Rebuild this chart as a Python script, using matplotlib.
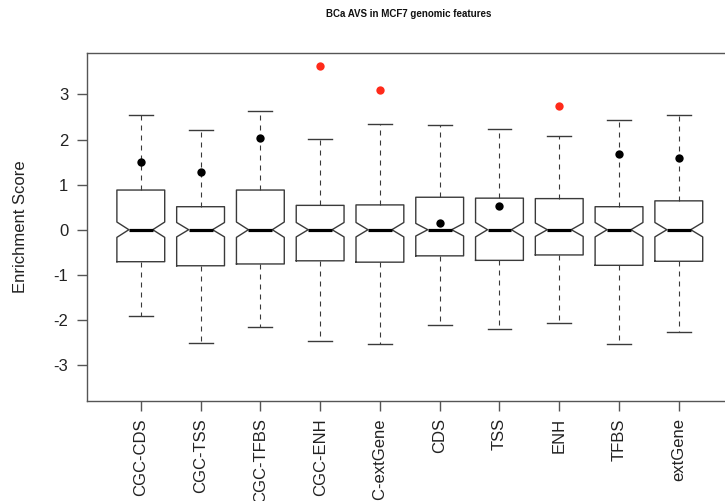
import matplotlib
matplotlib.use("Agg")
import matplotlib.pyplot as plt

plt.rcParams['font.family'] = ['Liberation Sans', 'DejaVu Sans']

# Genomic feature categories
categories = ['CGC-CDS', 'CGC-TSS', 'CGC-TFBS', 'CGC-ENH', 'CGC-extGene',
              'CDS', 'TSS', 'ENH', 'TFBS', 'extGene']

# Box statistics of the enrichment score per feature
medians = [0.0, 0.0, 0.0, 0.0, 0.0, 0.0, 0.0, 0.0, 0.0, 0.0]
q1 = [-0.71, -0.80, -0.76, -0.69, -0.72, -0.58, -0.68, -0.56, -0.79, -0.70]
q3 = [0.88, 0.51, 0.88, 0.54, 0.55, 0.72, 0.70, 0.69, 0.51, 0.64]
whisker_low = [-1.91, -2.52, -2.15, -2.47, -2.53, -2.11, -2.21, -2.06, -2.54, -2.26]
whisker_high = [2.54, 2.21, 2.64, 2.02, 2.35, 2.32, 2.23, 2.07, 2.43, 2.54]
notch_low = [-0.17, -0.16, -0.17, -0.16, -0.16, -0.14, -0.16, -0.15, -0.16, -0.16]
notch_high = [0.17, 0.16, 0.17, 0.16, 0.16, 0.14, 0.16, 0.15, 0.16, 0.16]

# Observed AVS score per feature; highlighted ones lie beyond the whiskers
avs_scores = [1.51, 1.28, 2.04, 3.64, 3.09, 0.14, 0.53, 2.74, 1.68, 1.58]
highlighted = [False, False, False, True, True, False, False, True, False, False]

fig = plt.figure(figsize=(7.25, 5.01), dpi=100)
ax = fig.add_axes([87 / 725, 100 / 501, 645.6 / 725, 348 / 501])

stats = []
for i, name in enumerate(categories):
    stats.append(dict(label=name, med=medians[i], q1=q1[i], q3=q3[i],
                      whislo=whisker_low[i], whishi=whisker_high[i],
                      cilo=notch_low[i], cihi=notch_high[i], fliers=[]))

positions = list(range(1, len(categories) + 1))
edge = '#3a3a3a'
ax.bxp(stats, positions=positions, widths=0.8, shownotches=True,
       showfliers=False, patch_artist=False,
       boxprops=dict(color=edge, linewidth=1.0),
       whiskerprops=dict(color=edge, linewidth=0.8, linestyle=(0, (4.5, 4.5))),
       capprops=dict(color=edge, linewidth=1.0),
       medianprops=dict(color='black', linewidth=2.3, solid_capstyle='butt'))

for x, v, hl in zip(positions, avs_scores, highlighted):
    ax.plot([x], [v], 'o', markersize=6, color='#ff2a1a' if hl else 'black',
            markeredgewidth=0, zorder=5)

ax.set_xlim(0.1, 10.9)
ax.set_ylim(-3.80, 3.92)
ax.set_yticks([-3, -2, -1, 0, 1, 2, 3])
ax.set_yticklabels(['-3', '-2', '-1', '0', '1', '2', '3'])
ax.set_xticks(positions)
ax.set_xticklabels(categories, rotation=90)

for s in ax.spines.values():
    s.set_color('#555555')
    s.set_linewidth(1.0)
ax.tick_params(axis='both', colors='#555555', labelcolor='#222222',
               length=7.5, width=1.0, labelsize=12)
ax.tick_params(axis='y', pad=6)
ax.tick_params(axis='x', pad=5)

ax.set_ylabel('Enrichment Score', fontsize=12, color='#222222')
ax.yaxis.set_label_coords(-(87 - 28) / 645.6, 0.5)

fig.text(409 / 725, 1 - 14 / 501, 'BCa AVS in MCF7 genomic features',
         ha='center', va='center', fontsize=7, fontweight='bold', color='#111111')

fig.savefig('out.png', dpi=100)
